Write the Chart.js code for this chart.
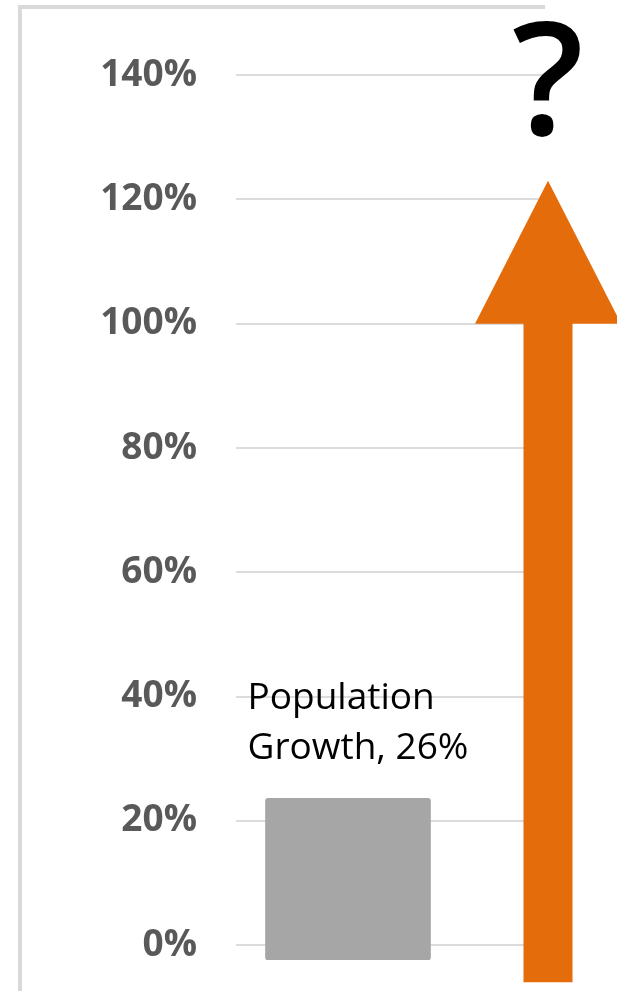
<!DOCTYPE html>
<html>
<head>
<meta charset="utf-8">
<script src="https://cdn.jsdelivr.net/npm/chart.js@4/dist/chart.umd.min.js"></script>
<style>
  html, body { margin: 0; padding: 0; background: #fff; overflow: hidden; }
  #wrap { position: relative; width: 617px; height: 991px; }
  #frame {
    position: absolute; left: 18px; top: 5px; width: 523px; height: 990px;
    border-top: 4px solid #d9d9d9; border-left: 4px solid #d9d9d9;
  }
  #c { position: absolute; left: 0; top: 0; }
</style>
</head>
<body>
<div id="wrap">
  <div id="frame"></div>
  <canvas id="c" width="617" height="991"></canvas>
</div>
<script>
// Chart data
const categories = ['Population Growth'];
const growthValues = [26];              // percent
const tickValues = [0, 20, 40, 60, 80, 100, 120, 140];

// Upward arrow standing for the unknown growth (percent on the y axis)
const arrowStart = -6;
const arrowHeadBase = 100;
const arrowTip = 123;
const unknownMark = '?';

// Axis ranges
const yMin = -2.4, yMax = 150;
const barSlot = 0, arrowSlot = 1;       // x positions of the bar and the arrow

const ORANGE = '#e46c0a';
const BAR_GREY = '#a6a6a6';

// no automatic edge padding: the plot area is set by layout.padding alone
function noEdgePadding(scale) {
  scale.paddingTop = 0;
  scale.paddingBottom = 0;
  scale.paddingLeft = 0;
  scale.paddingRight = 0;
}

const overlay = {
  id: 'overlay',
  afterDatasetsDraw(chart) {
    const { ctx, scales: { x, y } } = chart;

    // arrow
    const cx = x.getPixelForValue(arrowSlot);
    const yBottom = y.getPixelForValue(arrowStart);
    const yBase = y.getPixelForValue(arrowHeadBase);
    const yTip = y.getPixelForValue(arrowTip);
    const shaftHalf = 24.5, headHalf = 73;
    ctx.save();
    ctx.fillStyle = ORANGE;
    ctx.beginPath();
    ctx.moveTo(cx - shaftHalf, yBottom);
    ctx.lineTo(cx - shaftHalf, yBase);
    ctx.lineTo(cx - headHalf, yBase);
    ctx.lineTo(cx, yTip);
    ctx.lineTo(cx + headHalf, yBase);
    ctx.lineTo(cx + shaftHalf, yBase);
    ctx.lineTo(cx + shaftHalf, yBottom);
    ctx.closePath();
    ctx.fill();

    // question mark above the arrow
    ctx.fillStyle = '#000';
    ctx.font = '600 158px "Open Sans"';
    ctx.textAlign = 'center';
    ctx.textBaseline = 'alphabetic';
    ctx.fillText(unknownMark, cx, yTip - 46);

    // data label above the bar
    const bar = chart.getDatasetMeta(0).data[0];
    const words = categories[0].split(' ');
    const lines = [words[0], words.slice(1).join(' ') + ', ' + growthValues[0] + '%'];
    ctx.font = '37px "Open Sans"';
    ctx.textAlign = 'left';
    const left = bar.x - bar.width / 2 - 18;
    ctx.fillText(lines[0], left, bar.y - 89);
    ctx.fillText(lines[1], left, bar.y - 39);
    ctx.restore();
  }
};

new Chart(document.getElementById('c'), {
  type: 'bar',
  data: {
    datasets: [{
      label: categories[0],
      data: growthValues.map(v => ({ x: barSlot, y: v })),
      backgroundColor: BAR_GREY,
      borderRadius: 3,
      borderSkipped: false,
      barThickness: 165,
      yAxisID: 'yBar'
    }]
  },
  options: {
    responsive: false,
    animation: false,
    devicePixelRatio: 1,
    layout: { padding: { top: 13, bottom: 31, left: 0, right: 69 } },
    plugins: { legend: { display: false }, tooltip: { enabled: false } },
    scales: {
      x: {
        type: 'linear',
        min: -0.56,
        max: 1,
        offset: false,
        display: false,
        afterFit: noEdgePadding
      },
      y: {
        type: 'linear',
        position: 'left',
        min: yMin,
        max: yMax,
        afterBuildTicks(scale) {
          scale.ticks = tickValues.map(v => ({ value: v }));
        },
        afterFit(scale) {
          scale.width = 236;
          noEdgePadding(scale);
        },
        border: { display: false },
        grid: { color: '#dcdcdc', lineWidth: 2, drawTicks: false },
        ticks: {
          padding: 39,
          color: '#595959',
          font: { family: 'Open Sans', size: 37, weight: 'bold' },
          callback: v => v + '%'
        }
      },
      yBar: {
        type: 'linear',
        display: false,
        min: 0,
        max: yMax - yMin,
        afterFit: noEdgePadding
      }
    }
  },
  plugins: [overlay]
});
</script>
</body>
</html>
